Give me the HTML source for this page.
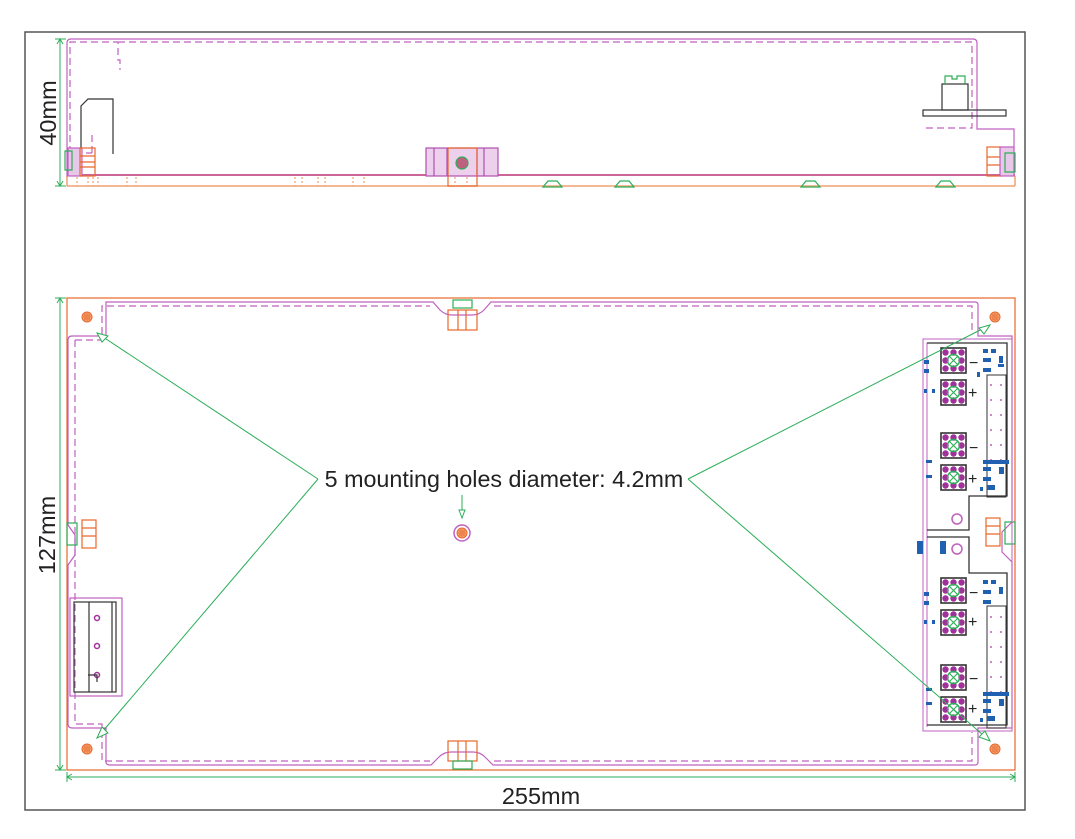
<!DOCTYPE html>
<html><head><meta charset="utf-8"><style>
html,body{margin:0;padding:0;background:#fff;}
svg{display:block;}
text{font-family:"Liberation Sans",sans-serif;fill:#222;}
</style></head><body>
<svg width="1075" height="839" viewBox="0 0 1075 839" xmlns="http://www.w3.org/2000/svg">
<defs>
<g id="con">
<rect x="0" y="0" width="25" height="25" fill="#fff" stroke="#333" stroke-width="1.6"/>
<g fill="#a0309a">
<circle cx="4.5" cy="4.5" r="3.2"/><circle cx="12.5" cy="4.5" r="3.2"/><circle cx="20.5" cy="4.5" r="3.2"/>
<circle cx="4.5" cy="12.5" r="3.2"/><circle cx="20.5" cy="12.5" r="3.2"/>
<circle cx="4.5" cy="20.5" r="3.2"/><circle cx="12.5" cy="20.5" r="3.2"/><circle cx="20.5" cy="20.5" r="3.2"/>
</g>
<circle cx="12.5" cy="12.5" r="6" fill="none" stroke="#2cae58" stroke-width="1.4"/>
<path d="M8.5 8.5L16.5 16.5M16.5 8.5L8.5 16.5" stroke="#2cae58" stroke-width="1.1"/>
</g>
<g id="hole">
<circle r="5" fill="#f4a070" stroke="#e8672a" stroke-width="1"/>
<path d="M-4 0H4M0 -4V4M-3 -2H3M-3 2H3M-2 -3V3M2 -3V3" stroke="#e8672a" stroke-width="0.6"/>
</g>
</defs>

<rect x="25" y="32" width="1000" height="778" fill="none" stroke="#555" stroke-width="1.5"/>

<!-- ===== TOP VIEW ===== -->
<g fill="none" stroke-width="1.2">
<path d="M67 178V43Q67 39 71 39H973Q977 39 977 43V129H1014V150" stroke="#c060c0"/>
<path d="M70 153V42H118V60H120V70M118 42H972V128H924" stroke="#c060c0" stroke-dasharray="7,4"/>
<path d="M75 153H92M92 153V134" stroke="#c060c0" stroke-dasharray="7,4"/>
<path d="M67 175H1015" stroke="#cc6699" stroke-width="2"/>
<path d="M67 186H1015M67 176V186M1015 176V186" stroke="#f0a070" stroke-width="1.5"/>
<path d="M81 154V106L88 99H113V154" stroke="#333"/>
<rect x="68" y="148" width="14" height="28" stroke="#c060c0" fill="#e9c7e9"/>
<rect x="80" y="148" width="15" height="28" stroke="#e8672a"/>
<path d="M80 156H95M80 162H95M80 167H95" stroke="#e8672a"/>
<path d="M65 151H72V170H65Z" stroke="#2cae58"/>
<rect x="987" y="147" width="14" height="29" stroke="#e8672a"/>
<rect x="1000" y="147" width="14" height="29" stroke="#c060c0" fill="#e9c7e9"/>
<path d="M987 157H1000M987 165H1000" stroke="#e8672a"/>
<path d="M1005 153H1015V172H1005Z" stroke="#2cae58"/>
<rect x="426" y="148" width="72" height="28" stroke="#b050b0" fill="#ecd0ec"/>
<path d="M434 148V176M447 148V176M477 148V176M484 148V176" stroke="#b050b0"/>
<rect x="448" y="148" width="29" height="38" stroke="#e8672a"/>
<circle cx="462" cy="163" r="6" stroke="#2cae58" fill="#c06080"/>
<g stroke="#f0a070" stroke-dasharray="2,2">
<path d="M77 177V186M88 177V186M93 177V186M98 177V186M127 177V186M136 177V186M295 177V186M302 177V186M318 177V186M325 177V186M353 177V186M364 177V186M455 177V186M467 177V186"/>
</g>
<g stroke="#2cae58">
<path d="M543 187L548 181H557L562 187ZM615 187L620 181H629L634 187ZM801 187L806 181H815L820 187ZM936 187L941 181H950L955 187Z"/>
</g>
<rect x="923" y="110" width="83" height="6" stroke="#333"/>
<rect x="942" y="84" width="26" height="26" stroke="#333"/>
<path d="M945 84V76H952V79H957V76H965V84" stroke="#2cae58"/>
</g>
<g stroke="#2cae58" fill="none" stroke-width="1">
<path d="M60 39V186M55 39H66M55 186H66M57 44L60 39L63 44M57 181L60 186L63 181"/>
</g>
<text x="0" y="0" font-size="23.5" transform="translate(56 113) rotate(-90)" text-anchor="middle">40mm</text>

<!-- ===== BOTTOM VIEW ===== -->
<g fill="none" stroke-width="1.2">
<rect x="67" y="298" width="948" height="472" stroke="#e8672a"/>
<path d="M72 336H106V302H433L440 310Q445 315 452 315H472Q479 315 484 310L491 302H975Q978 302 978 305V336H1012V522L1002 532V552L1012 562V728H978V762Q978 765 975 765H493L485 757Q480 752 473 752H451Q444 752 439 757L431 765H110Q106 765 106 762V728H72Q68 728 68 724V565L75 555V535L68 525V340Q68 336 72 336Z" stroke="#c060c0"/>
<path d="M75 340H102V306H430M494 306H972V332M75 340V724H102V761H430M494 761H972V732" stroke="#c060c0" stroke-dasharray="7,4"/>
<rect x="448" y="310" width="29" height="20" stroke="#e8672a"/>
<path d="M458 310V330M466 310V330" stroke="#e8672a"/>
<rect x="453" y="300" width="19" height="8" stroke="#2cae58"/>
<rect x="448" y="741" width="29" height="20" stroke="#e8672a"/>
<path d="M458 741V761M466 741V761" stroke="#e8672a"/>
<rect x="453" y="761" width="19" height="8" stroke="#2cae58"/>
<rect x="82" y="520" width="14" height="28" stroke="#e8672a"/>
<path d="M82 528H96M82 536H96" stroke="#e8672a"/>
<rect x="67" y="523" width="10" height="22" stroke="#2cae58"/>
<rect x="986" y="518" width="14" height="28" stroke="#e8672a"/>
<path d="M986 526H1000M986 534H1000" stroke="#e8672a"/>
<rect x="1005" y="522" width="10" height="22" stroke="#2cae58"/>
<rect x="70" y="598" width="52" height="98" stroke="#c060c0"/>
<rect x="74" y="602" width="42" height="90" stroke="#333"/>
<path d="M89 602V692M112 602V692" stroke="#333"/>
<circle cx="97" cy="618" r="2.5" stroke="#a0309a" stroke-width="1.5"/>
<circle cx="97" cy="646" r="2.5" stroke="#a0309a" stroke-width="1.5"/>
<circle cx="97" cy="675" r="2.5" stroke="#a0309a" stroke-width="1.5"/>
<path d="M88 675H97V682" stroke="#333"/>
<circle cx="462" cy="533" r="8" stroke="#c060c0" stroke-width="1.5"/>
</g>
<use href="#hole" x="87" y="317"/>
<use href="#hole" x="995" y="317"/>
<use href="#hole" x="87" y="749"/>
<use href="#hole" x="995" y="749"/>
<use href="#hole" x="462" y="533"/>

<g fill="none" stroke-width="1">
<rect x="923" y="339" width="89" height="392" stroke="#c060c0"/>
<path d="M927 343V727" stroke="#c060c0"/>
<path d="M927 343H1007V496H969V530H927M927 537H969V573H1007V725H927" stroke="#333" stroke-width="1.3"/>
<path d="M987 375H1006V497H987ZM987 606H1006V728H987Z" stroke="#333"/>
<circle cx="957" cy="519" r="5" stroke="#c060c0" stroke-width="1.5"/>
<circle cx="957" cy="549" r="5" stroke="#c060c0" stroke-width="1.5"/>
<g fill="#c060c0" stroke="none">
<circle cx="991" cy="385" r="1"/><circle cx="1001" cy="385" r="1"/><circle cx="991" cy="400" r="1"/><circle cx="1001" cy="400" r="1"/>
<circle cx="991" cy="415" r="1"/><circle cx="1001" cy="415" r="1"/><circle cx="991" cy="430" r="1"/><circle cx="1001" cy="430" r="1"/>
<circle cx="991" cy="445" r="1"/><circle cx="1001" cy="445" r="1"/><circle cx="991" cy="460" r="1"/><circle cx="1001" cy="460" r="1"/>
<circle cx="991" cy="617" r="1"/><circle cx="1001" cy="617" r="1"/><circle cx="991" cy="632" r="1"/><circle cx="1001" cy="632" r="1"/>
<circle cx="991" cy="647" r="1"/><circle cx="1001" cy="647" r="1"/><circle cx="991" cy="662" r="1"/><circle cx="1001" cy="662" r="1"/>
<circle cx="991" cy="677" r="1"/><circle cx="1001" cy="677" r="1"/><circle cx="991" cy="692" r="1"/><circle cx="1001" cy="692" r="1"/>
</g>
</g>
<use href="#con" x="941" y="348"/>
<use href="#con" x="941" y="380"/>
<use href="#con" x="941" y="433"/>
<use href="#con" x="941" y="465"/>
<use href="#con" x="941" y="578"/>
<use href="#con" x="941" y="610"/>
<use href="#con" x="941" y="665"/>
<use href="#con" x="941" y="697"/>
<g fill="#2060b0">
<rect x="983" y="349" width="5" height="4"/><rect x="991" y="349" width="5" height="4"/>
<rect x="983" y="358" width="8" height="4"/><rect x="983" y="368" width="8" height="4"/><rect x="999" y="356" width="4" height="7"/><rect x="998" y="364" width="6" height="3"/>
<rect x="977" y="372" width="3" height="5"/>
<rect x="924" y="360" width="5" height="4"/><rect x="924" y="369" width="5" height="4"/>
<rect x="924" y="389" width="3" height="4"/><rect x="932" y="389" width="3" height="4"/>
<rect x="926" y="460" width="6" height="3"/><rect x="926" y="475" width="6" height="3"/>
<rect x="983" y="460" width="26" height="4"/><rect x="983" y="467" width="8" height="4"/><rect x="983" y="477" width="8" height="4"/><rect x="999" y="467" width="5" height="7"/>
<rect x="980" y="487" width="3" height="4"/><rect x="987" y="485" width="8" height="5"/>
<rect x="917" y="541" width="6" height="13"/><rect x="940" y="541" width="6" height="13"/>
<rect x="983" y="580" width="5" height="4"/><rect x="991" y="580" width="5" height="4"/>
<rect x="983" y="590" width="8" height="4"/><rect x="983" y="600" width="8" height="4"/><rect x="999" y="587" width="4" height="7"/>
<rect x="924" y="592" width="5" height="4"/><rect x="924" y="601" width="5" height="4"/>
<rect x="924" y="620" width="3" height="4"/><rect x="932" y="620" width="3" height="4"/>
<rect x="926" y="688" width="6" height="3"/><rect x="926" y="702" width="6" height="3"/>
<rect x="983" y="692" width="26" height="4"/><rect x="983" y="699" width="8" height="4"/><rect x="983" y="709" width="8" height="4"/><rect x="999" y="699" width="5" height="7"/>
<rect x="980" y="718" width="3" height="4"/><rect x="987" y="716" width="8" height="5"/>
</g>
<g font-size="16" fill="#222">
<text x="969" y="368">−</text><text x="968" y="398">+</text>
<text x="969" y="453">−</text><text x="968" y="484">+</text>
<text x="969" y="598">−</text><text x="968" y="627">+</text>
<text x="969" y="684">−</text><text x="968" y="714">+</text>
</g>

<g stroke="#2cae58" fill="none" stroke-width="1">
<path d="M318 479L97 333M318 479L97 738M688 479L990 325M688 479L990 741M462 495V518"/>
<path d="M97 333L108 336L102 342Z" fill="#fff"/>
<path d="M97 738L102 727L108 733Z" fill="#fff"/>
<path d="M990 325L979 328L984 334Z" fill="#fff"/>
<path d="M990 741L985 731L979 737Z" fill="#fff"/>
<path d="M459 510L462 518L465 510Z" fill="#fff"/>
</g>
<text x="504" y="487" font-size="23.3" text-anchor="middle">5 mounting holes diameter: 4.2mm</text>

<g stroke="#2cae58" fill="none" stroke-width="1">
<path d="M60 298V770M55 298H66M55 770H66M57 303L60 298L63 303M57 765L60 770L63 765"/>
<path d="M67 777H1015M67 772V782M1015 772V782M72 774L67 777L72 780M1010 774L1015 777L1010 780"/>
</g>
<text x="0" y="0" font-size="23.5" transform="translate(55 535) rotate(-90)" text-anchor="middle">127mm</text>
<text x="541" y="804" font-size="23.5" text-anchor="middle">255mm</text>
</svg>
</body></html>
